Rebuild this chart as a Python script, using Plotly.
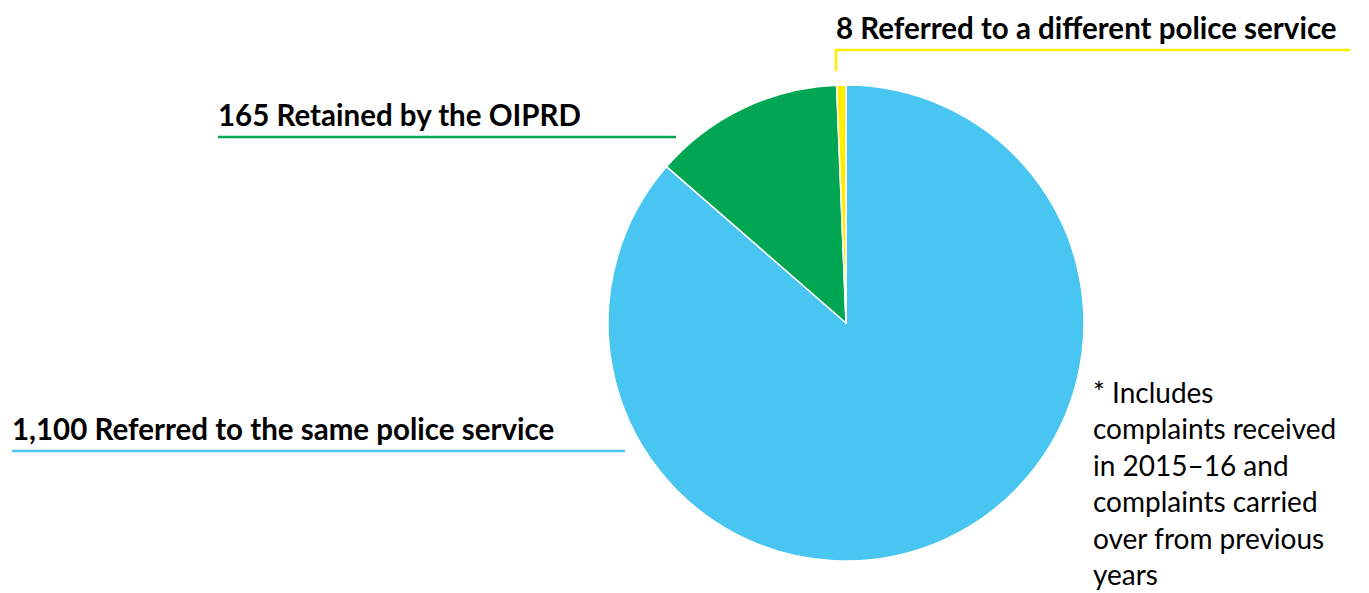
import plotly.graph_objects as go

categories = ["Referred to the same police service", "Retained by the OIPRD",
              "Referred to a different police service"]
counts = [1100, 165, 8]
colors = ["#48C6F1", "#00A651", "#FFED00"]

footnote = "* Includes<br>complaints received<br>in 2015–16 and<br>complaints carried<br>over from previous<br>years"

W, H = 1369, 593
OFF = 8  # page body margin
cx, cy, r = 846, 323, 238


def px(x):
    return (x - OFF) / W


def py(y):
    return 1 - (y - OFF) / H


fig = go.Figure(go.Pie(
    values=counts,
    labels=categories,
    sort=False,
    direction="clockwise",
    rotation=0,
    marker=dict(colors=colors, line=dict(color="white", width=1.5)),
    textinfo="none",
    hoverinfo="label+value",
    domain=dict(x=[px(cx - r), px(cx + r)], y=[py(cy + r), py(cy - r)]),
))

# leader lines (pixel positions of the callouts)
line_specs = [
    (colors[0], [(12, 451), (625, 451)]),
    (colors[1], [(218, 137), (676, 137)]),
    (colors[2], [(836, 71), (836, 50), (1350, 50)]),
]
for col, pts in line_specs:
    path = "M " + " L ".join(f"{px(x)},{py(y)}" for x, y in pts)
    fig.add_shape(type="path", path=path, xref="paper", yref="paper",
                  line=dict(color=col, width=2.5))

label_pos = [(10, 448), (216, 134), (834, 47)]
for cat, n, (x, y) in zip(categories, counts, label_pos):
    fig.add_annotation(
        text=f"<b>{n:,} {cat}</b>", x=px(x), y=py(y), xref="paper", yref="paper",
        xanchor="left", yanchor="bottom", showarrow=False,
        font=dict(size=29.5, color="black"),
    )

fig.add_annotation(
    text=footnote, x=px(1091), y=py(373), xref="paper", yref="paper",
    xanchor="left", yanchor="top", align="left", showarrow=False,
    font=dict(size=28, color="black"),
)

fig.update_layout(
    width=W, height=H,
    margin=dict(l=0, r=0, t=0, b=0),
    paper_bgcolor="white", plot_bgcolor="white",
    showlegend=False,
    font=dict(family="Lato, sans-serif"),
)

fig.write_html("out.html")
